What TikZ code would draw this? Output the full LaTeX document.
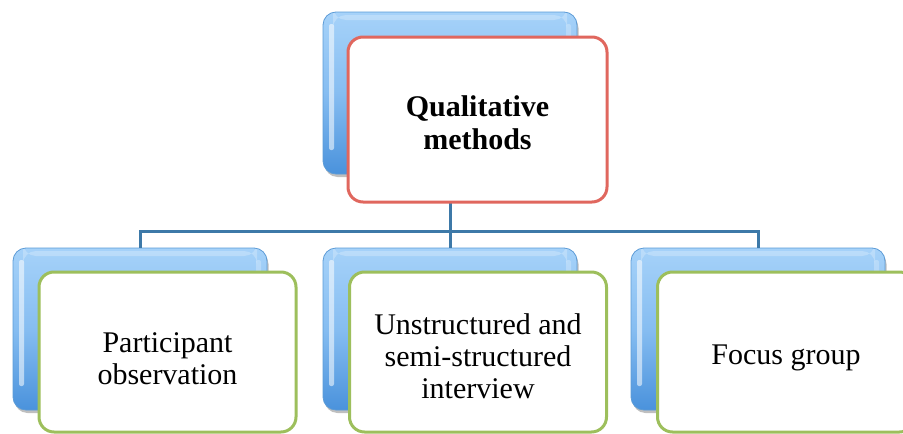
\documentclass[tikz,border=0pt]{standalone}
\usepackage{fontspec}
\setmainfont{Liberation Serif}
\usetikzlibrary{shadows,calc}

\definecolor{glossTop}{HTML}{A6D2F9}
\definecolor{glossMid}{HTML}{86BDF1}
\definecolor{glossBot}{HTML}{4A92DC}
\definecolor{glossEdge}{HTML}{5C9BD6}
\definecolor{linkBlue}{HTML}{3D79A8}
\definecolor{headRed}{HTML}{E0675E}
\definecolor{leafGreen}{HTML}{9DBF5C}

\tikzset{
  glossbox/.style={
    rectangle, rounded corners=13pt, minimum width=254pt, minimum height=162pt,
    draw=glossEdge, line width=0.8pt,
    top color=glossTop, bottom color=glossBot, middle color=glossMid,
    drop shadow={shadow xshift=1.5pt, shadow yshift=-3pt, opacity=0.25, fill=black},
    path picture={
      % glossy highlight strips on the left and right inner edges
      \fill[white, opacity=0.55, rounded corners=2pt]
        ([xshift=6pt,yshift=-12pt]path picture bounding box.north west)
        rectangle ([xshift=11pt,yshift=24pt]path picture bounding box.south west);
      \fill[white, opacity=0.25, rounded corners=2pt]
        ([xshift=-11pt,yshift=-12pt]path picture bounding box.north east)
        rectangle ([xshift=-6pt,yshift=24pt]path picture bounding box.south east);
      \fill[white, opacity=0.25]
        ([xshift=10pt,yshift=-3pt]path picture bounding box.north west)
        rectangle ([xshift=-10pt,yshift=-8pt]path picture bounding box.north east);
    }},
  framebox/.style={
    rectangle, rounded corners=15pt, fill=white, draw=#1, line width=3pt,
    minimum width=257pt, minimum height=160pt},
  linkline/.style={draw=linkBlue, line width=3pt},
  headtext/.style={align=center, font=\fontsize{30}{33}\selectfont\bfseries, inner sep=0pt},
  leaftext/.style={align=center, font=\fontsize{30}{32}\selectfont, inner sep=0pt}
}

\begin{document}
\begin{tikzpicture}[x=1pt,y=-1pt]
  \useasboundingbox (0,0) rectangle (903,434);
  \clip (0,0) rectangle (903,434);

  % back (blue) layer
  \node[glossbox] (headB) at (450,93) {};
  \node[glossbox] (obsB) at (140,329) {};
  \node[glossbox] (intB) at (450,329) {};
  \node[glossbox] (focB) at (758,329) {};

  % tree connectors
  \coordinate (bus) at (0,231);
  \draw[linkline] (headB.center) -- (headB.center |- bus);
  \draw[linkline] (obsB.north) -- (obsB.north |- bus) -- (focB.north |- bus) -- (focB.north);
  \draw[linkline] (intB.north) -- (intB.north |- bus);

  % front (white) layer
  \node[framebox=headRed, minimum width=259pt, minimum height=165pt] (head) at (477.5,119.5) {};
  \node[framebox=leafGreen] (obs) at (167.5,352) {};
  \node[framebox=leafGreen] (int) at (478,352) {};
  \node[framebox=leafGreen] (foc) at (786,352) {};

  % texts
  \node[headtext] (headT) at ([yshift=-3.5pt]head.center) {Qualitative\\methods};
  \node[leaftext] (obsT) at ([yshift=-7pt]obs.center) {Participant\\observation};
  \node[leaftext] (intT) at ([yshift=-4.5pt]int.center) {Unstructured and\\semi-structured\\interview};
  \node[leaftext] (focT) at (int.center -| foc.center) [yshift=-6pt] {Focus group};
\end{tikzpicture}
\end{document}
